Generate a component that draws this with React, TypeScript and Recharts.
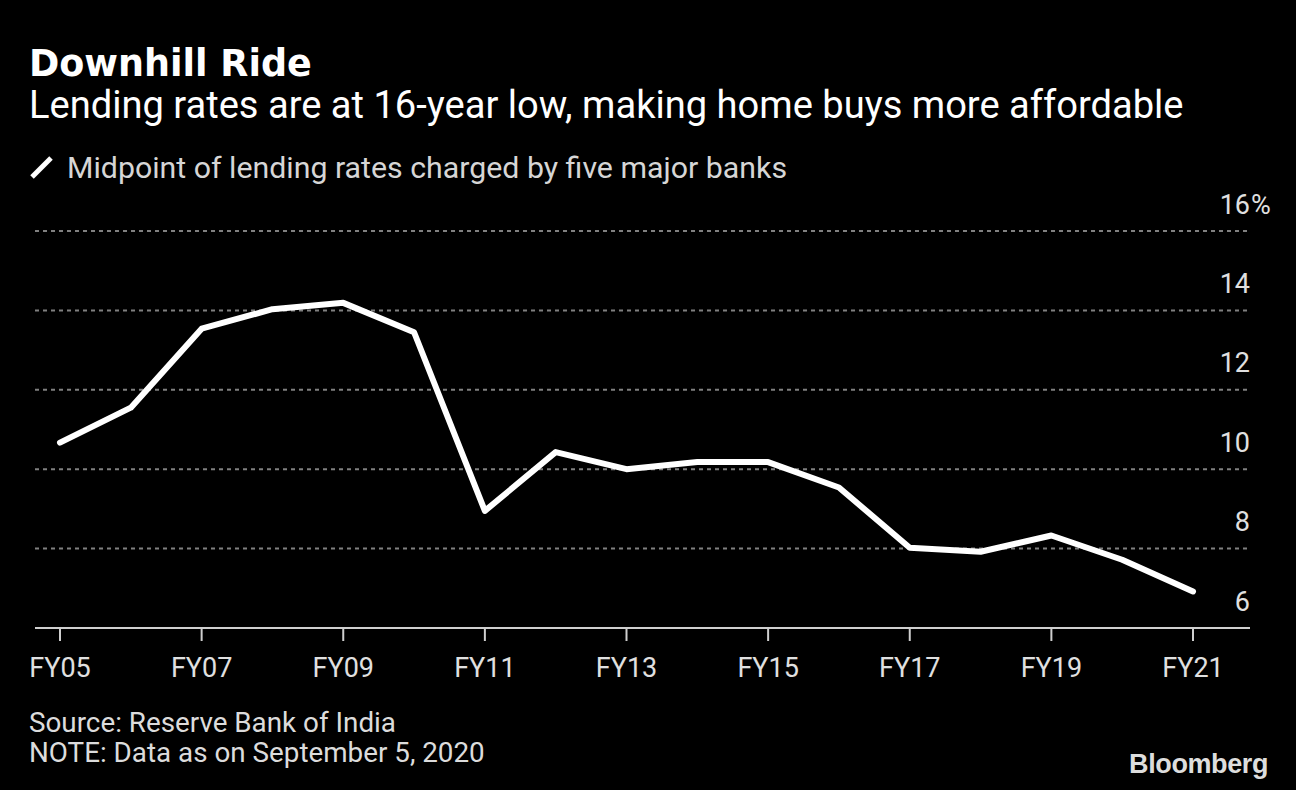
import React from 'react'
import { LineChart, Line, XAxis, YAxis, CartesianGrid } from 'recharts'

// fiscal years and midpoint lending rate (%)
const years = ['FY05', 'FY06', 'FY07', 'FY08', 'FY09', 'FY10', 'FY11', 'FY12', 'FY13', 'FY14', 'FY15', 'FY16', 'FY17', 'FY18', 'FY19', 'FY20', 'FY21']
const rates = [10.67, 11.55, 13.54, 14.03, 14.19, 13.45, 8.95, 10.43, 10.0, 10.18, 10.18, 9.54, 8.02, 7.92, 8.33, 7.72, 6.92]
const yTicks = [6, 8, 10, 12, 14, 16]

const title = 'Downhill Ride'
const subtitle = 'Lending rates are at 16-year low, making home buys more affordable'
const legendLabel = 'Midpoint of lending rates charged by five major banks'
const source = 'Source: Reserve Bank of India'
const note = 'NOTE: Data as on September 5, 2020'

const data = years.map((year, i) => ({ year, rate: rates[i] }))

const TEXT_FONT = 'Roboto, "DejaVu Sans", sans-serif'

const YTick = (props: any) => {
  const { x, y, payload } = props
  return (
    <g>
      <text x={x} y={y - 17.5} textAnchor='end' fill='#e0e0e0' fontSize={27} fontFamily={TEXT_FONT}>
        {payload.value}
      </text>
      {payload.value === 16 && (
        <text x={x + 1} y={y - 17.5} textAnchor='start' fill='#e0e0e0' fontSize={27} fontFamily={TEXT_FONT}>%</text>
      )}
    </g>
  )
}

const XTick = (props: any) => {
  const { x, y, payload } = props
  return (
    <text x={x} y={y + 36} textAnchor='middle' fill='#e0e0e0' fontSize={27} fontFamily={TEXT_FONT}>
      {payload.value}
    </text>
  )
}

const App = () => {
  return (
    <div style={{ position: 'absolute', left: 0, top: 0, width: 1296, height: 790, background: '#000' }}>
      <LineChart width={1296} height={790} data={data} margin={{ top: 231, right: 0, left: 35, bottom: 0 }}>
        <CartesianGrid vertical={false} stroke='#808080' strokeDasharray='4 4' strokeWidth={2} />
        <XAxis
          dataKey='year'
          height={162}
          interval={1}
          padding={{ left: 25, right: 57 }}
          axisLine={{ stroke: '#cfcfcf', strokeWidth: 2 }}
          tickLine={{ stroke: '#cfcfcf', strokeWidth: 2 }}
          tickSize={13}
          tickMargin={0}
          tick={<XTick />}
        />
        <YAxis
          orientation='right'
          width={46}
          domain={[6, 16]}
          ticks={yTicks}
          axisLine={false}
          tickLine={false}
          tickSize={0}
          tickMargin={0}
          tick={<YTick />}
        />
        <Line
          type='linear'
          dataKey='rate'
          stroke='#ffffff'
          strokeWidth={6}
          strokeLinecap='round'
          strokeLinejoin='round'
          dot={false}
          activeDot={false}
          isAnimationActive={false}
        />
      </LineChart>

      <svg width={1296} height={790} style={{ position: 'absolute', left: 0, top: 0, pointerEvents: 'none' }}>
        <text x={29} y={76} fill='#ffffff' fontSize={36.5} fontWeight='bold' fontFamily='"DejaVu Sans", sans-serif'>{title}</text>
        <text x={29} y={118} fill='#ffffff' fontSize={38.1} fontFamily={TEXT_FONT}>{subtitle}</text>

        {/* legend */}
        <line x1={32} y1={177} x2={51} y2={158} stroke='#ffffff' strokeWidth={5} />
        <text x={67} y={178} fill='#d6d6d6' fontSize={30.3} fontFamily={TEXT_FONT}>{legendLabel}</text>

        <text x={29} y={732} fill='#dcdcdc' fontSize={27.8} fontFamily={TEXT_FONT}>{source}</text>
        <text x={29} y={762} fill='#dcdcdc' fontSize={27.8} fontFamily={TEXT_FONT}>{note}</text>

        <text x={1268} y={773} textAnchor='end' fill='#dddddd' fontSize={27} fontWeight='bold' letterSpacing={-0.4} fontFamily='"Liberation Sans", Arial, sans-serif'>Bloomberg</text>
      </svg>
    </div>
  )
}

export default App
